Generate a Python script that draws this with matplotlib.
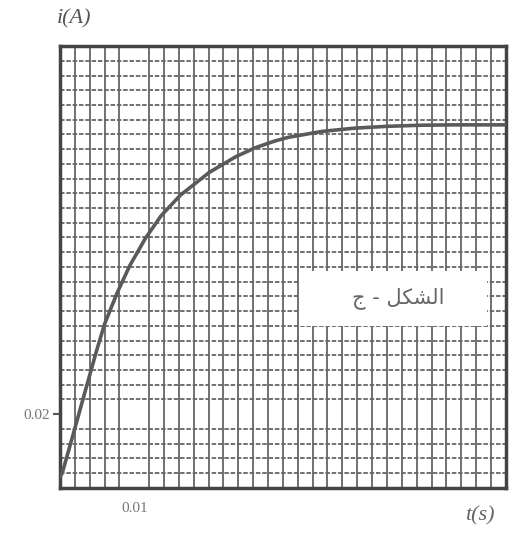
import numpy as np
import matplotlib
matplotlib.use("Agg")
import matplotlib.pyplot as plt
from matplotlib.patches import Rectangle

# data
t_s = [0.0, 0.0003, 0.0017, 0.0033, 0.0049, 0.0060, 0.0077, 0.0094, 0.0115, 0.0136,
       0.0162, 0.0201, 0.0237, 0.0263, 0.0289, 0.0307, 0.0352, 0.0396, 0.0440,
       0.0486, 0.0530, 0.0600]
i_A = [0.0030, 0.0040, 0.0140, 0.0256, 0.0371, 0.0445, 0.0530, 0.0604, 0.0678, 0.0739,
       0.0795, 0.0857, 0.0900, 0.0924, 0.0942, 0.0952, 0.0968, 0.0977, 0.0982,
       0.0985, 0.0986, 0.0986]
x_tick_vals = [0.01]
x_tick_labels = ["0.01"]
y_tick_vals = [0.02]
y_tick_labels = ["0.02"]
y_ylabel = "i(A)"
x_xlabel = "t(s)"
caption = "\uFE9D - \uFEDE\uFEDC\uFEB8\uFEDF\uFE8D"  # "الشكل - ج" in visual order

fig = plt.figure(figsize=(5.13, 5.36), dpi=100)
ax = fig.add_axes([0.117, 0.09, 0.869, 0.824])

ink = "#666666"
ax.set_xlim(0, 0.06)
ax.set_ylim(0, 0.12)

# graph-paper grid
ax.set_xticks(np.arange(0, 0.0601, 0.002), minor=True)
ax.set_yticks(np.arange(0, 0.1201, 0.004), minor=True)
ax.grid(which="minor", axis="x", color=ink, linewidth=1.3, linestyle="-")
ax.grid(which="minor", axis="y", color=ink, linewidth=1.3, linestyle=(0, (2.5, 1.0)))
ax.tick_params(which="minor", length=0)

ax.set_xticks(x_tick_vals)
ax.set_xticklabels(x_tick_labels)
ax.set_yticks(y_tick_vals)
ax.set_yticklabels(y_tick_labels)
ax.tick_params(which="major", length=5, width=1.5, color="#555555", labelcolor="#777777",
               labelsize=11, pad=2)
for lab in ax.get_xticklabels() + ax.get_yticklabels():
    lab.set_family("Liberation Serif")
ax.xaxis.set_tick_params(pad=10, length=0)

for s in ax.spines.values():
    s.set_color("#444444")
    s.set_linewidth(2.5)

ax.plot(t_s, i_A, color="#5a5a5a", linewidth=2.6, zorder=3,
        solid_capstyle="round", solid_joinstyle="round")

# white label box
ax.add_patch(Rectangle((0.0323, 0.044), 0.0252, 0.015, facecolor="white",
                       edgecolor="none", zorder=4))
ax.text(0.0455, 0.0515, caption, family="DejaVu Sans", fontsize=15, color="#666666",
        ha="center", va="center", zorder=5)

fig.text(0.145, 0.965, y_ylabel, family="Liberation Serif", style="italic",
         fontsize=16, color="#555555", ha="center", va="center")
fig.text(0.935, 0.038, x_xlabel, family="Liberation Serif", style="italic",
         fontsize=16, color="#666666", ha="center", va="center")

fig.savefig("out.png", dpi=100)
